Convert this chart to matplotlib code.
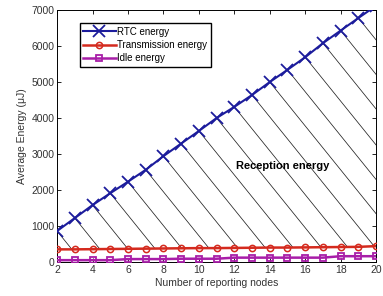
import numpy as np
import matplotlib
matplotlib.use("Agg")
import matplotlib.pyplot as plt
from matplotlib.patches import PathPatch

plt.rcParams['font.family'] = ['Liberation Sans', 'DejaVu Sans']

# データ
nodes = [2, 3, 4, 5, 6, 7, 8, 9, 10, 11, 12, 13, 14, 15, 16, 17, 18, 19, 20]
rtc_energy = [860, 1220, 1580, 1910, 2230, 2560, 2940, 3290, 3640, 4000,
              4310, 4640, 5000, 5340, 5690, 6080, 6430, 6780, 7120]
tx_energy = [350, 350, 355, 360, 365, 370, 375, 380, 385, 385,
             390, 395, 400, 400, 405, 410, 415, 420, 440]
idle_energy = [50, 50, 50, 50, 80, 80, 80, 90, 90, 90,
               120, 120, 120, 120, 120, 120, 160, 160, 160]
xticks = [2, 4, 6, 8, 10, 12, 14, 16, 18, 20]
yticks = [0, 1000, 2000, 3000, 4000, 5000, 6000, 7000]

fig = plt.figure(figsize=(3.83, 2.96), dpi=100)
ax = fig.add_axes([0.149, 0.115, 0.833, 0.851])

ax.plot(nodes, rtc_energy, color='#1c1c9c', lw=1.5, marker='x', ms=8, mew=1.3,
        label='RTC energy', zorder=3)
ax.plot(nodes, tx_energy, color='#d42a1e', lw=1.8, marker='o', ms=4.5, mfc='none',
        mew=1.1, label='Transmission energy', zorder=3)
ax.plot(nodes, idle_energy, color='#a81ea8', lw=1.8, marker='s', ms=5, mfc='none',
        mew=1.3, label='Idle energy', zorder=3)

# Reception energy の斜線 (RTC と送信の間)
area = ax.fill_between(nodes, tx_energy, rtc_energy, facecolor='none', edgecolor='none')
clip = PathPatch(area.get_paths()[0], transform=ax.transData, visible=False)
ax.add_patch(clip)
slope = 610
for x0, y0 in zip(nodes[:-1], rtc_energy[:-1]):
    xs = np.array([x0, x0 + 15])
    ys = y0 - slope * (xs - x0)
    ln, = ax.plot(xs, ys, color='#222222', lw=0.55, zorder=2)
    ln.set_clip_path(clip)

ax.text(14.75, 2670, 'Reception energy', fontsize=8, fontweight='bold',
        ha='center', va='center')

ax.set_xlim(2, 20)
ax.set_ylim(0, 7000)
ax.set_xticks(xticks)
ax.set_yticks(yticks)
ax.tick_params(direction='in', top=True, right=True, labelsize=7.5,
               length=3, width=0.6, pad=2, labelcolor='#333333')
for s in ax.spines.values():
    s.set_linewidth(0.7)

ax.set_xlabel('Number of reporting nodes', fontsize=7.5, color='#333333', labelpad=2)
ax.set_ylabel('Average Energy (μJ)', fontsize=7.5, color='#333333', labelpad=3)

ax.legend(loc='upper left', bbox_to_anchor=(0.072, 0.948), borderaxespad=0,
          fontsize=7, fancybox=False, edgecolor='black', framealpha=1,
          handlelength=3.3, handletextpad=0.2, borderpad=0.35, labelspacing=0.35)

fig.savefig('out.png', dpi=100)
